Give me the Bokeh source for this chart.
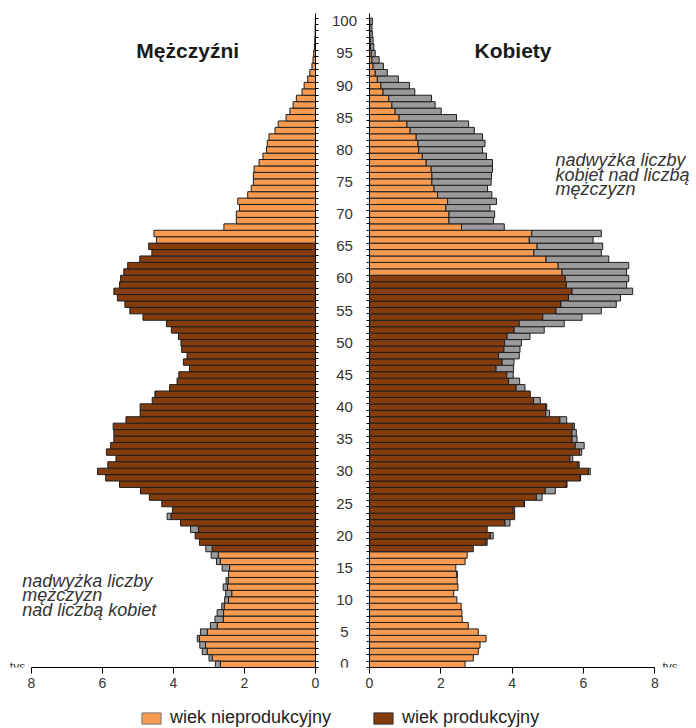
from bokeh.plotting import figure
from bokeh.layouts import row, column
from bokeh.models import (Range1d, FixedTicker, ColumnDataSource, Legend,
                          LegendItem, CustomJSTickFormatter)
from bokeh.embed import file_html
from bokeh.resources import INLINE
from bokeh.core.properties import value

# ---------------- data (thousands of persons, by single year of age) ----------------
ages = list(range(0, 101))
men = [2.82, 3.00, 3.19, 3.26, 3.33, 3.24, 2.96, 2.83, 2.77, 2.64,
       2.56, 2.53, 2.60, 2.52, 2.45, 2.63, 2.79, 2.94, 3.09, 3.27,
       3.39, 3.52, 3.80, 4.18, 4.03, 4.33, 4.68, 4.93, 5.52, 5.91,
       6.14, 5.85, 5.62, 5.89, 5.77, 5.68, 5.68, 5.70, 5.34, 4.94,
       4.94, 4.60, 4.52, 4.11, 3.90, 3.85, 3.55, 3.72, 3.62, 3.77,
       3.79, 3.86, 4.06, 4.20, 4.86, 5.23, 5.37, 5.58, 5.68, 5.52,
       5.49, 5.40, 5.29, 4.95, 4.61, 4.70, 4.48, 4.55, 2.58, 2.23,
       2.23, 2.14, 2.19, 1.91, 1.81, 1.75, 1.75, 1.73, 1.59, 1.48,
       1.38, 1.36, 1.31, 1.14, 1.05, 0.83, 0.72, 0.63, 0.54, 0.38,
       0.32, 0.22, 0.16, 0.10, 0.07, 0.05, 0.03, 0.02, 0.01, 0.01,
       0.005]
women = [2.68, 2.91, 3.05, 3.10, 3.27, 3.05, 2.77, 2.60, 2.59, 2.57,
         2.45, 2.36, 2.48, 2.46, 2.46, 2.42, 2.68, 2.74, 2.91, 3.30,
         3.47, 3.30, 3.94, 4.07, 4.07, 4.35, 4.84, 5.21, 5.54, 5.92,
         6.19, 5.88, 5.70, 5.95, 6.02, 5.82, 5.80, 5.75, 5.53, 5.05,
         4.97, 4.79, 4.51, 4.36, 4.21, 4.03, 4.04, 4.05, 4.20, 4.22,
         4.26, 4.50, 4.90, 5.46, 5.96, 6.50, 6.92, 7.04, 7.38, 7.21,
         7.27, 7.21, 7.27, 6.71, 6.50, 6.54, 6.27, 6.50, 3.78, 3.48,
         3.51, 3.38, 3.56, 3.43, 3.31, 3.41, 3.42, 3.45, 3.45, 3.28,
         3.17, 3.24, 3.17, 2.94, 2.78, 2.44, 2.01, 1.84, 1.74, 1.27,
         1.12, 0.81, 0.50, 0.39, 0.27, 0.16, 0.12, 0.10, 0.08, 0.07,
         0.08]
productive_men = (18, 65)
productive_women = (18, 60)
age_tick_values = list(range(0, 101, 5))
age_tick_labels = [str(a) for a in age_tick_values]
x_tick_values = [0, 2, 4, 6, 8]
legend_labels = ["wiek nieprodukcyjny", "wiek produkcyjny"]
title_men = "Mężczyźni"
title_women = "Kobiety"
note_men = ["nadwyżka liczby", "mężczyzn", "nad liczbą kobiet"]
note_women = ["nadwyżka liczby", "kobiet nad liczbą", "mężczyzn"]
unit_label = "tys."

# ---------------- styles ----------------
ORANGE = "#F89A50"
BROWN = "#843C0C"
GRAY = "#9A9A9C"
OUT = "#1e1e1e"
TXT = "#333333"
FONT = "Liberation Sans"
PX_Y = 6.43          # pixels per year of age
PX_X_L = 35.5        # pixels per thousand (left)
PX_X_R = 35.66       # pixels per thousand (right)
FRAME_H = 667
BOTTOM = 33
L_FRAME_W = 315
R_FRAME_W = 327
GAP_BORDER = 12
MID_W = 30


def side_sources(own, other, prod):
    base = [min(o, t) for o, t in zip(own, other)]
    colors = [BROWN if prod[0] <= a <= prod[1] else ORANGE for a in ages]
    main = ColumnDataSource(dict(y=[a + 0.5 for a in ages], right=base, color=colors))
    ex = [i for i in range(len(ages)) if own[i] > other[i]]
    excess = ColumnDataSource(dict(y=[ages[i] + 0.5 for i in ex],
                                   left=[other[i] for i in ex],
                                   right=[own[i] for i in ex]))
    return main, excess


def style_x(ax):
    ax.ticker = FixedTicker(ticks=x_tick_values)
    ax.bounds = (0, 8)
    ax.major_tick_in = 0
    ax.major_tick_out = 6
    ax.minor_tick_in = 0
    ax.minor_tick_out = 0
    ax.axis_line_color = "black"
    ax.major_tick_line_color = "black"
    ax.major_label_text_font = FONT
    ax.major_label_text_font_size = "14px"
    ax.major_label_text_color = TXT
    ax.major_label_standoff = 4


def style_y(ax):
    ax.ticker = FixedTicker(ticks=list(range(0, 102)))
    ax.bounds = (0, 101.7)
    ax.major_tick_in = 0
    ax.major_tick_out = 3
    ax.minor_tick_in = 0
    ax.minor_tick_out = 0
    ax.axis_line_color = "black"
    ax.major_tick_line_color = "black"
    ax.formatter = CustomJSTickFormatter(code="return ''")
    ax.major_label_standoff = 0


def clean(p):
    p.outline_line_color = None
    p.grid.visible = False
    p.background_fill_color = "white"
    p.border_fill_color = "white"


yr = Range1d(0, FRAME_H / PX_Y)

# ---------------- left: men ----------------
L = figure(width=L_FRAME_W + GAP_BORDER, height=FRAME_H + BOTTOM,
           x_range=Range1d(L_FRAME_W / PX_X_L, 0), y_range=yr,
           output_backend="svg", toolbar_location=None,
           x_axis_location="below", y_axis_location="right",
           min_border_left=0, min_border_right=GAP_BORDER, min_border_top=0,
           min_border_bottom=BOTTOM)
clean(L)
style_x(L.xaxis[0])
style_y(L.yaxis[0])
m_main, m_ex = side_sources(men, women, productive_men)
L.hbar(y="y", left=0, right="right", height=1, source=m_main,
       fill_color="color", line_color=OUT, line_width=1)
L.hbar(y="y", left="left", right="right", height=1, source=m_ex,
       fill_color=GRAY, line_color=OUT, line_width=1)
L.text(x=[(315 - 187.2) / PX_X_L], y=[(667 - 50) / PX_Y], text=[title_men],
       text_align="center", text_baseline="alphabetic", text_font=value(FONT),
       text_font_style="bold", text_font_size="21px", text_color="#1a1a1a")
L.text(x=[(315 - 21.7) / PX_X_L] * 3,
       y=[(667 - b) / PX_Y for b in (580, 594.5, 609.3)], text=note_men,
       text_align="left", text_baseline="alphabetic", text_font=value(FONT),
       text_font_style="italic", text_font_size="18px", text_color=TXT)
L.text(x=[(315 - 28) / PX_X_L], y=[0.1], text=[unit_label],
       text_align="right", text_baseline="alphabetic", text_font=value(FONT),
       text_font_size="12px", text_color=TXT)

# ---------------- middle: age labels ----------------
M = figure(width=MID_W, height=FRAME_H + BOTTOM, x_range=Range1d(-17, 13), y_range=yr,
           output_backend="svg", toolbar_location=None,
           x_axis_location=None, y_axis_location=None,
           min_border_left=0, min_border_right=0, min_border_top=0, min_border_bottom=BOTTOM)
clean(M)
M.text(x=[0] * len(age_tick_values), y=[a + 0.5 for a in age_tick_values], text=age_tick_labels,
       text_align="center", text_baseline="middle", text_font=value(FONT),
       text_font_size="15px", text_color=TXT)

# ---------------- right: women ----------------
R = figure(width=R_FRAME_W + GAP_BORDER, height=FRAME_H + BOTTOM,
           x_range=Range1d(0, R_FRAME_W / PX_X_R), y_range=yr,
           output_backend="svg", toolbar_location=None,
           x_axis_location="below", y_axis_location="left",
           min_border_left=GAP_BORDER, min_border_right=0, min_border_top=0,
           min_border_bottom=BOTTOM)
clean(R)
style_x(R.xaxis[0])
style_y(R.yaxis[0])
w_main, w_ex = side_sources(women, men, productive_women)
R.hbar(y="y", left=0, right="right", height=1, source=w_main,
       fill_color="color", line_color=OUT, line_width=1)
R.hbar(y="y", left="left", right="right", height=1, source=w_ex,
       fill_color=GRAY, line_color=OUT, line_width=1)
R.text(x=[(512.5 - 369) / PX_X_R], y=[(667 - 50) / PX_Y], text=[title_women],
       text_align="center", text_baseline="alphabetic", text_font=value(FONT),
       text_font_style="bold", text_font_size="21px", text_color="#1a1a1a")
R.text(x=[(555 - 369) / PX_X_R] * 3,
       y=[(667 - b) / PX_Y for b in (159.3, 174.0, 188.7)], text=note_women,
       text_align="left", text_baseline="alphabetic", text_font=value(FONT),
       text_font_style="italic", text_font_size="18px", text_color=TXT)
R.text(x=[(662 - 369) / PX_X_R], y=[0.1], text=[unit_label],
       text_align="left", text_baseline="alphabetic", text_font=value(FONT),
       text_font_size="12px", text_color=TXT)

# ---------------- legend strip ----------------
LG = figure(width=696, height=28, x_range=Range1d(0, 1), y_range=Range1d(0, 1),
            output_backend="svg", toolbar_location=None,
            x_axis_location=None, y_axis_location=None, min_border=0)
clean(LG)
# swatch-only renderers: no drawable data, they only lend their style to the legend
nan = float("nan")
sw1 = ColumnDataSource(dict(y=[nan], right=[nan]))
sw2 = ColumnDataSource(dict(y=[nan], right=[nan]))
r1 = LG.hbar(y="y", right="right", left=0, height=1, source=sw1,
             fill_color=ORANGE, line_color="#777777")
r2 = LG.hbar(y="y", right="right", left=0, height=1, source=sw2,
             fill_color=BROWN, line_color="#333333")
leg = Legend(items=[LegendItem(label=legend_labels[0], renderers=[r1]),
                    LegendItem(label=legend_labels[1], renderers=[r2])],
             location=(139, 0), orientation="horizontal",
             glyph_width=24, glyph_height=14, label_height=14, label_standoff=7,
             spacing=40, padding=0, margin=0,
             border_line_color=None, background_fill_alpha=0,
             label_text_font=FONT, label_text_font_size="18px", label_text_color="#222222")
LG.add_layout(leg)

layout = column(row(L, M, R), LG)
open("out.html", "w").write(file_html(layout, INLINE))
